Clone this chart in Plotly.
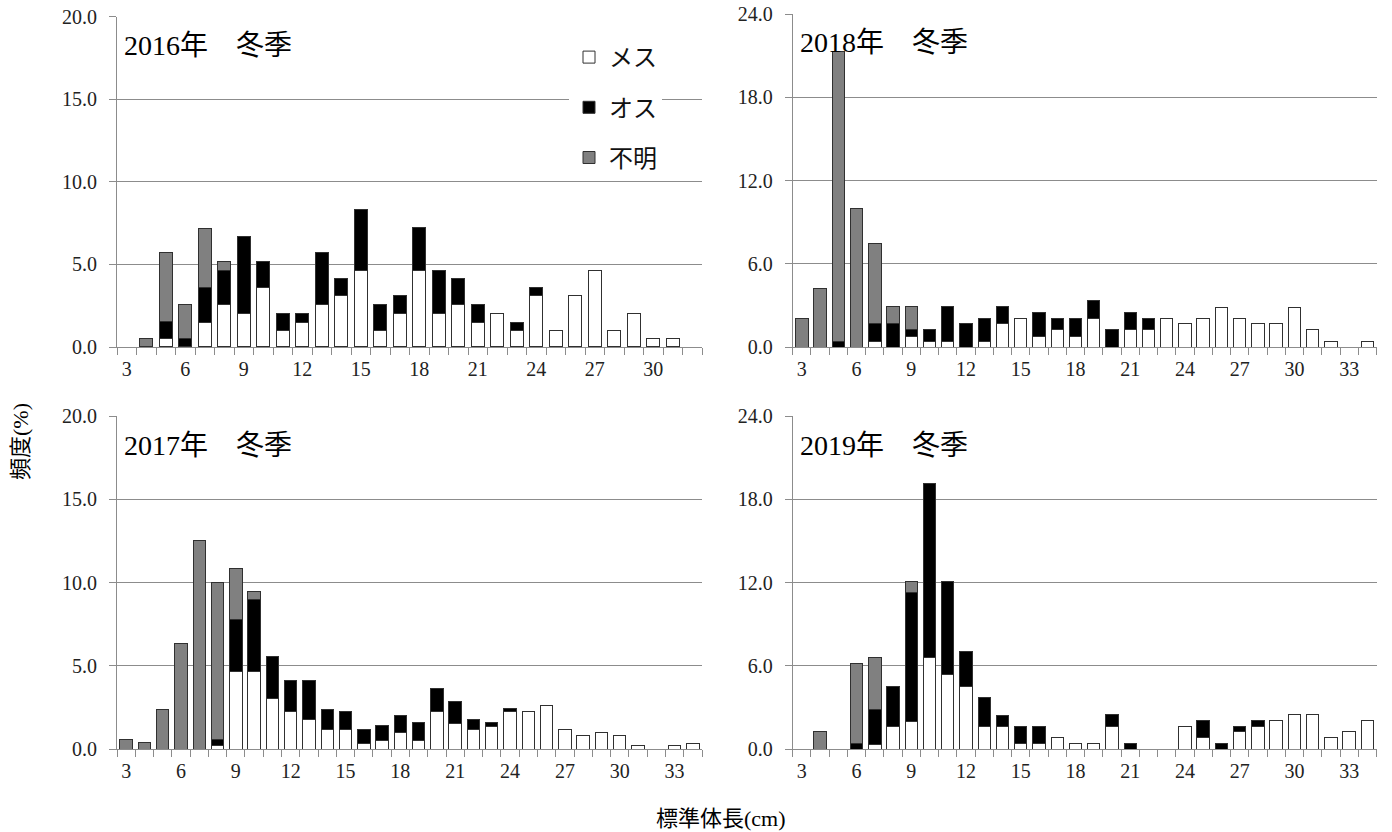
import plotly.graph_objects as go

N = None

# Standard body length classes (cm)
sizes_2016 = list(range(3, 33))
sizes_long = list(range(3, 35))
tick_vals = [3, 6, 9, 12, 15, 18, 21, 24, 27, 30, 33]

# Frequency (%) by sex — 2016 winter (3..32 cm)
female_2016 = [N, N, 0.5, N, 1.5, 2.55, 2.05, 3.6, 1.0, 1.5, 2.55, 3.1, 4.65, 1.0, 2.05,
               4.65, 2.05, 2.55, 1.5, 2.05, 1.0, 3.1, 1.0, 3.1, 4.65, 1.0, 2.05, 0.5, 0.5, N]
male_2016 = [N, N, 1.05, 0.5, 2.1, 2.1, 4.65, 1.6, 1.05, 0.55, 3.15, 1.05, 3.65, 1.55, 1.05,
             2.6, 2.6, 1.6, 1.05, N, 0.5, 0.5, N, N, N, N, N, N, N, N]
unknown_2016 = [N, 0.5, 4.15, 2.05, 3.6, 0.55, N, N, N, N, N, N, N, N, N,
                N, N, N, N, N, N, N, N, N, N, N, N, N, N, N]

# 2017 winter (3..34 cm)
female_2017 = [N, N, N, N, N, 0.2, 4.65, 4.65, 3.05, 2.25, 1.8, 1.2, 1.2, 0.35, 0.55, 1.0,
               0.55, 2.25, 1.55, 1.2, 1.35, 2.25, 2.25, 2.65, 1.2, 0.8, 1.0, 0.8, 0.2, N, 0.2, 0.35]
male_2017 = [N, N, N, N, N, 0.4, 3.15, 4.35, 2.5, 1.85, 2.3, 1.2, 1.05, 0.85, 0.85, 1.05,
             1.05, 1.4, 1.3, 0.6, 0.25, 0.2, N, N, N, N, N, N, N, N, N, N]
unknown_2017 = [0.6, 0.4, 2.4, 6.35, 12.5, 9.4, 3.05, 0.45, N, N, N, N, N, N, N, N,
                N, N, N, N, N, N, N, N, N, N, N, N, N, N, N, N]

# 2018 winter (3..34 cm)
female_2018 = [N, N, N, N, 0.4, N, 0.8, 0.4, 0.4, N, 0.4, 1.7, 2.1, 0.8, 1.25, 0.8,
               2.1, N, 1.25, 1.25, 2.1, 1.7, 2.1, 2.9, 2.1, 1.7, 1.7, 2.9, 1.25, 0.4, N, 0.4]
male_2018 = [N, N, 0.4, N, 1.3, 1.7, 0.45, 0.85, 2.55, 1.7, 1.7, 1.25, N, 1.7, 0.85, 1.25,
             1.25, 1.25, 1.25, 0.85, N, N, N, N, N, N, N, N, N, N, N, N]
unknown_2018 = [2.1, 4.2, 20.9, 10.0, 5.8, 1.25, 1.7, N, N, N, N, N, N, N, N, N,
                N, N, N, N, N, N, N, N, N, N, N, N, N, N, N, N]

# 2019 winter (3..34 cm)
female_2019 = [N, N, N, N, 0.35, 1.65, 2.0, 6.6, 5.4, 4.55, 1.65, 1.65, 0.4, 0.4, 0.85, 0.4,
               0.4, 1.65, N, N, N, 1.65, 0.85, N, 1.25, 1.65, 2.05, 2.5, 2.5, 0.85, 1.25, 2.05]
male_2019 = [N, N, N, 0.4, 2.55, 2.9, 9.3, 12.55, 6.7, 2.5, 2.1, 0.8, 1.25, 1.25, N, N,
             N, 0.85, 0.4, N, N, N, 1.25, 0.4, 0.4, 0.4, N, N, N, N, N, N]
unknown_2019 = [N, 1.25, N, 5.8, 3.7, N, 0.8, N, N, N, N, N, N, N, N, N,
                N, N, N, N, N, N, N, N, N, N, N, N, N, N, N, N]

W, H = 1392, 832
SERIF = "Liberation Serif, Noto Sans CJK JP, serif"
GRID = "#8c8c8c"

def px_x(p):
    return p / W

def px_y(p):
    return 1 - p / H

panels = [
    # (axis suffix, sizes, female, male, unknown, ymax, dtick, x0, x1, ytop, ybottom, title)
    ("", sizes_2016, female_2016, male_2016, unknown_2016, 20, 5, 117, 702, 16.7, 347, "2016年　冬季"),
    ("2", sizes_long, female_2018, male_2018, unknown_2018, 24, 6, 792.7, 1376.5, 14, 347.3, "2018年　冬季"),
    ("3", sizes_long, female_2017, male_2017, unknown_2017, 20, 5, 117, 702, 416, 749.3, "2017年　冬季"),
    ("4", sizes_long, female_2019, male_2019, unknown_2019, 24, 6, 792.7, 1376.5, 416, 749.3, "2019年　冬季"),
]

series_style = [
    ("メス", "#ffffff"),
    ("オス", "#000000"),
    ("不明", "#808080"),
]

fig = go.Figure()
layout = dict(
    width=W, height=H,
    margin=dict(l=0, r=0, t=0, b=0, pad=0, autoexpand=False),
    paper_bgcolor="white", plot_bgcolor="white",
    barmode="stack", bargap=0.32,
    showlegend=True,
    legend=dict(
        x=px_x(569), y=px_y(35), xanchor="left", yanchor="top",
        bgcolor="white", borderwidth=0,
        font=dict(family=SERIF, size=24, color="#111"),
        traceorder="grouped", tracegroupgap=16,
        entrywidth=60, entrywidthmode="pixels",
    ),
)
annotations = []

for i, (sfx, sizes, fem, mal, unk, ymax, dt, x0, x1, yt, yb, title) in enumerate(panels):
    xa, ya = "x" + sfx, "y" + sfx
    for (name, color), vals in zip(series_style, (fem, mal, unk)):
        fig.add_trace(go.Bar(
            x=sizes, y=vals, name=name, xaxis=xa, yaxis=ya,
            marker=dict(color=color, line=dict(color="#303030", width=1)),
            legendgroup=name, showlegend=(i == 0),
        ))
    layout["xaxis" + sfx] = dict(
        domain=[px_x(x0), px_x(x1)], anchor=ya, automargin=False,
        range=[sizes[0] - 0.5, sizes[-1] + 0.5],
        tickmode="array", tickvals=tick_vals, ticks="",
        showline=True, linecolor=GRID, linewidth=1,
        showgrid=False, zeroline=False,
        tickfont=dict(family=SERIF, size=20, color="#222"),
        minor=dict(tick0=2.5, dtick=1, ticks="outside", ticklen=7,
                   tickcolor=GRID, tickwidth=1, showgrid=False),
        ticklabelstandoff=4,
    )
    layout["yaxis" + sfx] = dict(
        domain=[px_y(yb), px_y(yt)], anchor=xa, automargin=False,
        range=[0, ymax], dtick=dt, tick0=0, tickformat=".1f",
        showline=True, linecolor=GRID, linewidth=1,
        showgrid=True, gridcolor=GRID, gridwidth=1, zeroline=False,
        ticks="outside", ticklen=7, tickcolor=GRID,
        tickfont=dict(family=SERIF, size=20, color="#222"),
        ticklabelstandoff=8,
    )
    annotations.append(dict(
        text=title, xref="paper", yref="paper",
        x=px_x(x0 + 5), y=px_y(yt + 29), xanchor="left", yanchor="middle",
        showarrow=False, font=dict(family=SERIF, size=28, color="#000"),
    ))

annotations.append(dict(
    text="頻度(%)", xref="paper", yref="paper", x=px_x(20), y=px_y(442),
    xanchor="center", yanchor="middle", textangle=-90, showarrow=False,
    font=dict(family=SERIF, size=22, color="#000"),
))
annotations.append(dict(
    text="標準体長(cm)", xref="paper", yref="paper", x=px_x(721), y=px_y(818),
    xanchor="center", yanchor="middle", showarrow=False,
    font=dict(family=SERIF, size=22, color="#000"),
))

layout["annotations"] = annotations
fig.update_layout(**layout)
fig.write_html("out.html")
